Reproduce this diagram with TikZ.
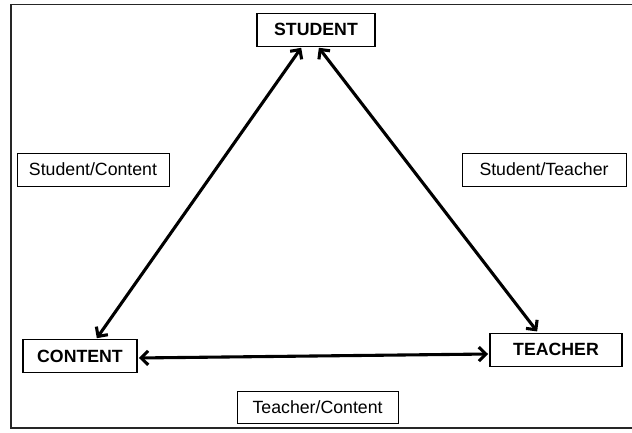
\documentclass[tikz,border=0pt]{standalone}
\usepackage{fontspec}
\setmainfont{Liberation Sans}
\usetikzlibrary{arrows.meta, positioning, calc}

\begin{document}
\begin{tikzpicture}[>={Straight Barb[length=5pt,width=10pt]}]
	
	% Define styles
	\tikzstyle{corner} = [rectangle, draw, line width=0.8pt, font=\fontsize{12.6}{14}\selectfont\bfseries, minimum height=0.825cm, text centered]
	\tikzstyle{pair} = [rectangle, draw, line width=0.6pt, font=\fontsize{12.6}{14}\selectfont, minimum height=0.825cm, text centered]
	\tikzstyle{link} = [<->, line width=2.2pt, shorten <=1pt, shorten >=1pt]
	
	% Frame
	\useasboundingbox (0,0) rectangle (15.8,10.8);
	\draw[line width=1.1pt, black!85] (16.2,10.69) -- (0.275,10.69) -- (0.275,0.1) -- (16.2,0.1);
	
	% Nodes
	\node[corner, minimum width=2.95cm] (student) at (7.9,10.06) {STUDENT\hspace{0.55cm}};
	\node[corner, minimum width=2.85cm] (content) at (2.0,1.89) {CONTENT\hspace{0.15cm}};
	\node[corner, minimum width=3.3cm] (teacher) at (13.9,2.06) {TEACHER\hspace{1.1cm}};
	
	% Labels
	\node[pair, minimum width=3.8cm] (sc) at (2.325,6.56) {Student/Content};
	\node[pair, minimum width=4.1cm] (st) at (13.6,6.56) {Student/Teacher};
	\node[pair, minimum width=4.025cm, minimum height=0.8cm] (tc) at (7.94,0.625) {Teacher/Content};
	
	% Arrows
	\draw[link] ([xshift=-0.35cm]student.south) -- ([xshift=0.4cm]content.north);
	\draw[link] ([xshift=0.05cm]student.south) -- ([xshift=-0.45cm]teacher.north);
	\draw[link] ([yshift=-0.04cm]content.east) -- ([yshift=-0.11cm]teacher.west);
	
\end{tikzpicture}
\end{document}
